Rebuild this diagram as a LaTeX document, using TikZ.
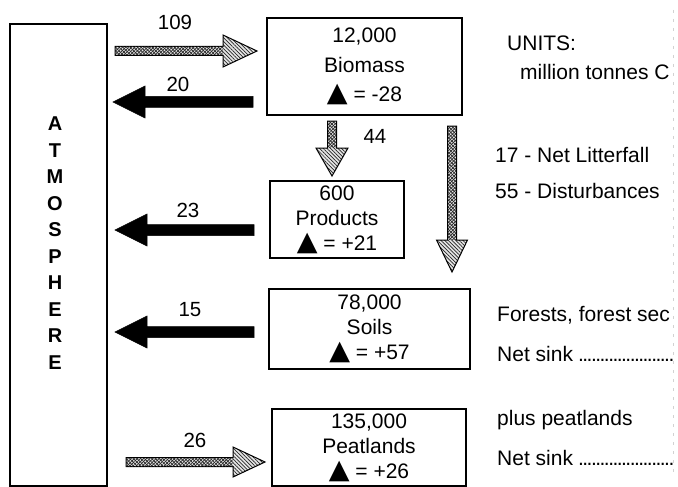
\documentclass[tikz,border=0pt]{standalone}
\usepackage{fontspec}
\setmainfont{Liberation Sans}
\newfontfamily\symf{DejaVu Sans}
\usetikzlibrary{calc,patterns.meta}

\newcommand\tri{{\symf\fontsize{27}{22}\selectfont ▲}}
\newcommand\sinkline{\hbox to 178pt{Net sink \leaders\hbox to 4.3pt{\hss.\hss}\hfill}}
% fat arrows: style, start, tip, half shaft, half head, head length
\newcommand\arrR[6]{\path[#1] let \p1=(#2), \p2=(#3) in
  (\x1,\y1-#4) -- (\x2-#6,\y1-#4) -- (\x2-#6,\y1-#5) -- (\x2,\y1) --
  (\x2-#6,\y1+#5) -- (\x2-#6,\y1+#4) -- (\x1,\y1+#4) -- cycle;
  \path[#1 shaft] let \p1=(#2), \p2=(#3) in
  (\x1+0.5pt,\y1-#4+0.5pt) rectangle (\x2-#6-0.5pt,\y1+#4-0.5pt);}
\newcommand\arrL[6]{\path[#1] let \p1=(#2), \p2=(#3) in
  (\x1,\y1-#4) -- (\x2+#6,\y1-#4) -- (\x2+#6,\y1-#5) -- (\x2,\y1) --
  (\x2+#6,\y1+#5) -- (\x2+#6,\y1+#4) -- (\x1,\y1+#4) -- cycle;}
\newcommand\arrD[6]{\path[#1] let \p1=(#2), \p2=(#3) in
  (\x1-#4,\y1) -- (\x1-#4,\y2+#6) -- (\x1-#5,\y2+#6) -- (\x1,\y2) --
  (\x1+#5,\y2+#6) -- (\x1+#4,\y2+#6) -- (\x1+#4,\y1) -- cycle;
  \path[#1 shaft] let \p1=(#2), \p2=(#3) in
  (\x1-#4+0.5pt,\y1-0.5pt) rectangle (\x1+#4-0.5pt,\y2+#6+0.5pt);}

\begin{document}
\begin{tikzpicture}[x=1pt,y=-1pt,
  box/.style={draw, line width=1.2pt, inner sep=0pt, align=center,
    font=\fontsize{21}{25}\selectfont},
  lbl/.style={inner sep=0pt, font=\fontsize{20.5}{24}\selectfont},
  side/.style={inner sep=0pt, anchor=west, font=\fontsize{21}{24}\selectfont},
  hatch/.style={draw=black, line width=1pt, line join=miter,
    preaction={fill=gray!20},
    pattern={Lines[angle=-45,distance=2.6pt,line width=0.7pt]},
    pattern color=black!85},
  hatch shaft/.style={pattern={Lines[angle=45,distance=2.2pt,line width=0.7pt]},
    pattern color=black!85},
  solidarr/.style={fill=black, draw=black, line width=0.5pt, line join=miter}]
\useasboundingbox (0,0) rectangle (678,487);
\clip (0,0) rectangle (678,487);
\fill[white] (0,0) rectangle (678,487);

% atmosphere
\node[box, minimum width=97pt, minimum height=462pt] (atm) at (58.5,255) {};
\node[inner sep=0pt, align=center, font=\bfseries\fontsize{20}{26.5}\selectfont]
  (atmlbl) at (55,243) {A\\T\\M\\O\\S\\P\\H\\E\\R\\E};

% pools
\node[box, minimum width=195pt, minimum height=97pt,
  font=\fontsize{21}{29.5}\selectfont] (bio) at (364.5,66.5)
  {12,000\\Biomass\\\tri\ = -28};
\node[box, minimum width=134pt, minimum height=77pt] (prod) at (337,219.5)
  {600\\Products\\\tri\ = +21};
\node[box, minimum width=201pt, minimum height=80pt] (soil) at (369.5,329)
  {78,000\\Soils\\\tri\ = +57};
\node[box, minimum width=194pt, minimum height=77pt] (peat) at (369,447.5)
  {135,000\\Peatlands\\\tri\ = +26};

% arrow end points
\coordinate (s109) at (115,51);  \coordinate (t109) at (257,51);
\coordinate (s20)  at (253,102); \coordinate (t20)  at (113,102);
\coordinate (s23)  at (254,230); \coordinate (t23)  at (115,230);
\coordinate (s15)  at (254,332); \coordinate (t15)  at (115,332);
\coordinate (s26)  at (126,462); \coordinate (t26)  at (265,462);
\coordinate (s44)  at (332,121); \coordinate (t44)  at (332,176);
\coordinate (slong) at (452,126); \coordinate (tlong) at (452,272);

\arrR{hatch}{s109}{t109}{4.5pt}{16pt}{34pt}
\arrL{solidarr}{s20}{t20}{5.5pt}{16pt}{32pt}
\arrL{solidarr}{s23}{t23}{5.5pt}{16pt}{32pt}
\arrL{solidarr}{s15}{t15}{5.5pt}{16pt}{32pt}
\arrR{hatch}{s26}{t26}{4.5pt}{15pt}{32pt}
\arrD{hatch}{s44}{t44}{4.5pt}{16pt}{28pt}
\arrD{hatch}{slong}{tlong}{4.5pt}{15.5pt}{32pt}

% flow labels
\node[lbl] (l109) at (175,22) {109};
\node[lbl] (l20) at (178,84) {20};
\node[lbl] (l23) at (188,210) {23};
\node[lbl] (l15) at (190,310) {15};
\node[lbl] (l26) at (195,440) {26};
\node[lbl] (l44) at (375,136) {44};

% side texts
\node[side] (units) at (507,43) {UNITS:};
\node[side] (mtc) at (520,72) {million tonnes C};
\node[side] (litter) at (495,155) {17 - Net Litterfall};
\node[side] (dist) at (495,191) {55 - Disturbances};
\node[side] (forest) at (497,315) {Forests, forest sec};
\node[side] (sink1) at (497,354) {\sinkline};
\node[side] (plus) at (497,420) {plus peatlands};
\node[side] (sink2) at (497,458) {\sinkline};

\draw[gray!35, line width=0.6pt, dash pattern=on 3pt off 6pt] (673,10) -- (673,475);
\end{tikzpicture}
\end{document}
